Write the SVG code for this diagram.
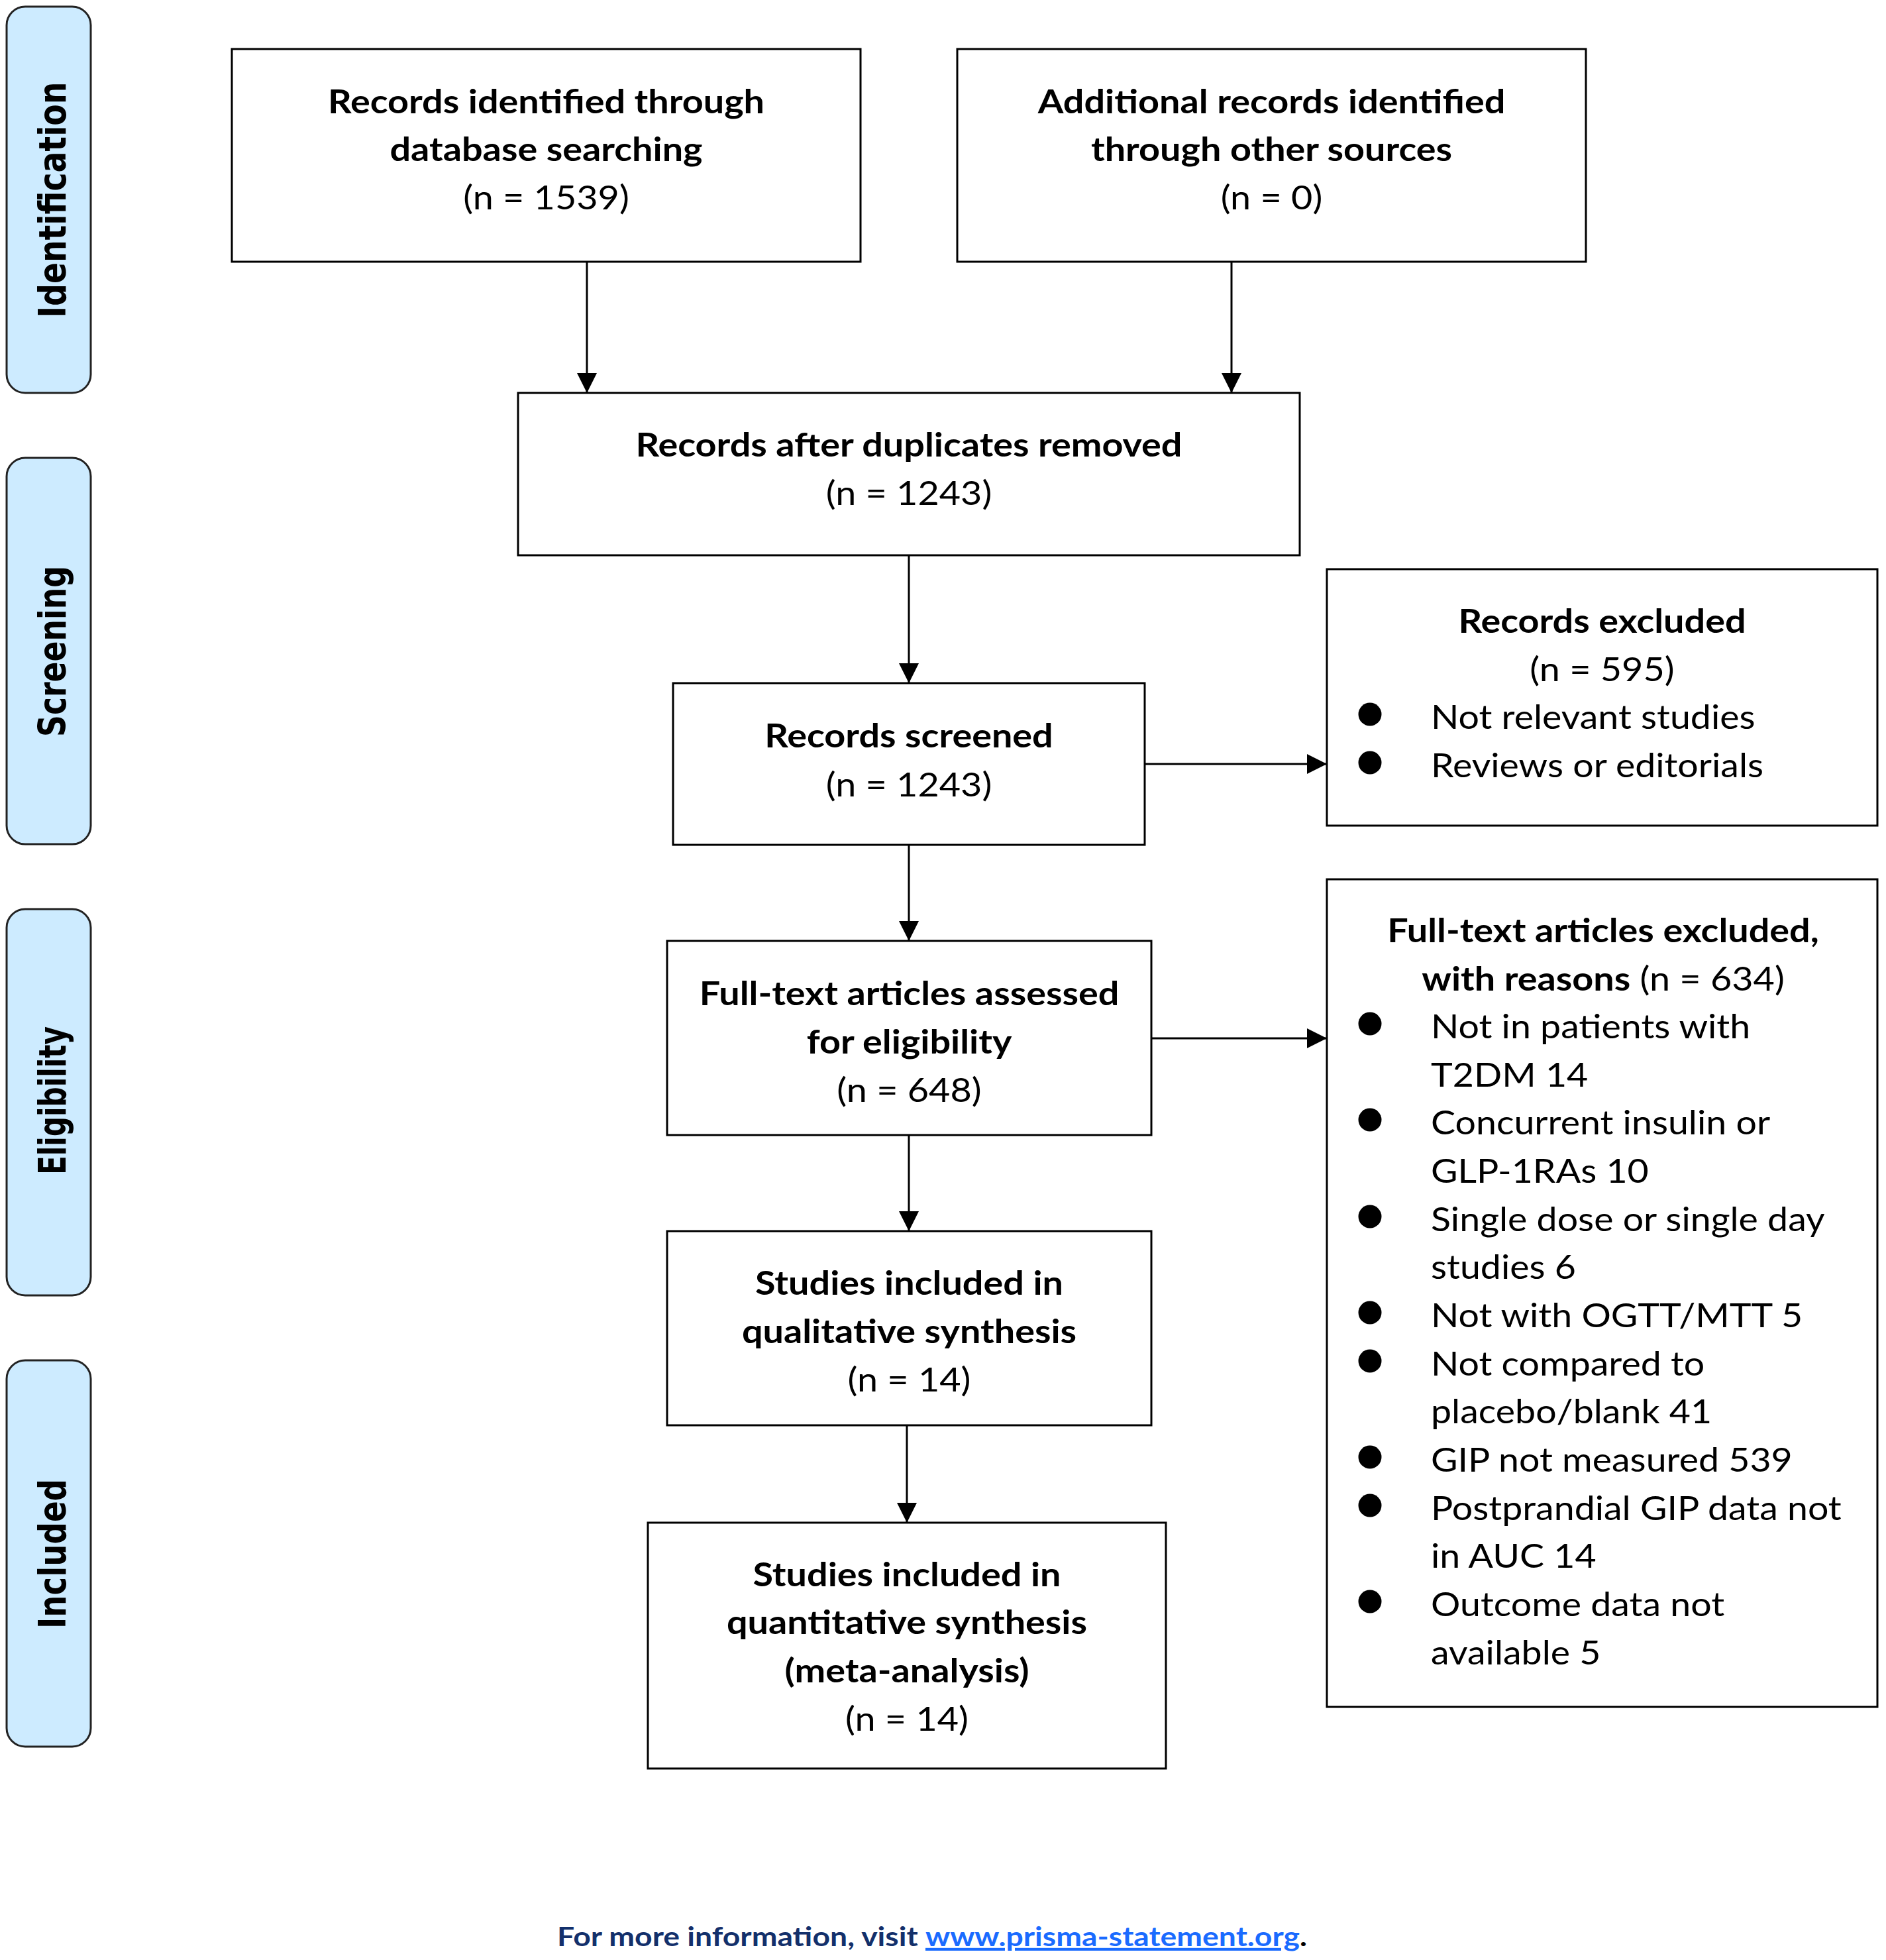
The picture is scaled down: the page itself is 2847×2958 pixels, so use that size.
<svg xmlns="http://www.w3.org/2000/svg" width="2847" height="2958" viewBox="0 0 2847 2958">
<style>
.side{fill:#CDEBFF;stroke:#222;stroke-width:3}
.sidet{font-family:"DejaVu Sans",Verdana,sans-serif;font-weight:bold;font-size:57px;fill:#000;text-anchor:middle}
.box{fill:#fff;stroke:#000;stroke-width:3}
.t{font-family:Lato,"Open Sans",sans-serif;font-size:50px;fill:#000;text-anchor:middle}
.l{font-family:Lato,"Open Sans",sans-serif;font-size:50px;fill:#000}
.b{font-weight:bold}
.conn{stroke:#000;stroke-width:3;fill:none;marker-end:url(#ah)}
.foot{font-family:Lato,"Open Sans",sans-serif;font-size:41px;font-weight:bold;text-anchor:middle}
</style>
<defs>
<marker id="ah" markerUnits="userSpaceOnUse" markerWidth="30" markerHeight="30" refX="30" refY="15" orient="auto">
<path d="M0,0 L30,15 L0,30 z" fill="#000"/>
</marker>
</defs>
<rect width="2847" height="2958" fill="#fff"/>

<g id="phase-identification">
<rect class="side" x="10" y="10" width="127" height="583" rx="28"/>
<text class="sidet" x="99" y="301.5" transform="rotate(-90 99 301.5)" textLength="356" lengthAdjust="spacingAndGlyphs">Identification</text>
</g>
<g id="phase-screening">
<rect class="side" x="10" y="691" width="127" height="583" rx="28"/>
<text class="sidet" x="99" y="983" transform="rotate(-90 99 983)" textLength="258" lengthAdjust="spacingAndGlyphs">Screening</text>
</g>
<g id="phase-eligibility">
<rect class="side" x="10" y="1372" width="127" height="583" rx="28"/>
<text class="sidet" x="99" y="1661" transform="rotate(-90 99 1661)" textLength="224" lengthAdjust="spacingAndGlyphs">Eligibility</text>
</g>
<g id="phase-included">
<rect class="side" x="10" y="2053" width="127" height="583" rx="28"/>
<text class="sidet" x="99" y="2345" transform="rotate(-90 99 2345)" textLength="226" lengthAdjust="spacingAndGlyphs">Included</text>
</g>

<g id="connectors">
<line class="conn" x1="886" y1="395" x2="886" y2="593"/>
<line class="conn" x1="1859" y1="395" x2="1859" y2="593"/>
<line class="conn" x1="1372" y1="838" x2="1372" y2="1031"/>
<line class="conn" x1="1728" y1="1153" x2="2003" y2="1153"/>
<line class="conn" x1="1372" y1="1275" x2="1372" y2="1420"/>
<line class="conn" x1="1738" y1="1567" x2="2003" y2="1567"/>
<line class="conn" x1="1372" y1="1713" x2="1372" y2="1858"/>
<line class="conn" x1="1369" y1="2151" x2="1369" y2="2298"/>
</g>

<g id="n-database">
<rect class="box" x="350" y="74" width="949" height="321"/>
<g transform="matrix(1.115 0 0 1 -94.82 0)">
<text class="t b" x="824.5" y="171">Records identified through</text>
<text class="t b" x="824.5" y="243">database searching</text>
<text class="t" x="824.5" y="316">(n = 1539)</text>
</g>
</g>
<g id="n-other">
<rect class="box" x="1445" y="74" width="949" height="321"/>
<g transform="matrix(1.115 0 0 1 -220.74 0)">
<text class="t b" x="1919.5" y="171">Additional records identified</text>
<text class="t b" x="1919.5" y="243">through other sources</text>
<text class="t" x="1919.5" y="316">(n = 0)</text>
</g>
</g>
<g id="n-dedup">
<rect class="box" x="782" y="593" width="1180" height="245"/>
<g transform="matrix(1.115 0 0 1 -157.78 0)">
<text class="t b" x="1372" y="689">Records after duplicates removed</text>
<text class="t" x="1372" y="762">(n = 1243)</text>
</g>
</g>
<g id="n-screened">
<rect class="box" x="1016" y="1031" width="712" height="244"/>
<g transform="matrix(1.115 0 0 1 -157.78 0)">
<text class="t b" x="1372" y="1128">Records screened</text>
<text class="t" x="1372" y="1202">(n = 1243)</text>
</g>
</g>
<g id="n-excluded">
<rect class="box" x="2003" y="859" width="831" height="387"/>
<g transform="matrix(1.115 0 0 1 -278.13 0)">
<text class="t b" x="2418.5" y="955">Records excluded</text>
<text class="t" x="2418.5" y="1028">(n = 595)</text>
</g>
<circle cx="2068" cy="1078" r="17.5"/>
<circle cx="2068" cy="1151" r="17.5"/>
<g transform="matrix(1.11 0 0 1 -237.6 0)">
<text class="l" x="2160" y="1100">Not relevant studies</text>
<text class="l" x="2160" y="1173">Reviews or editorials</text>
</g>
</g>
<g id="n-fulltext">
<rect class="box" x="1007" y="1420" width="731" height="293"/>
<g transform="matrix(1.115 0 0 1 -157.84 0)">
<text class="t b" x="1372.5" y="1517">Full-text articles assessed</text>
<text class="t b" x="1372.5" y="1590">for eligibility</text>
<text class="t" x="1372.5" y="1663">(n = 648)</text>
</g>
</g>
<g id="n-ftexcluded">
<rect class="box" x="2003" y="1327" width="831" height="1249"/>
<g transform="matrix(1.115 0 0 1 -278.3 0)">
<text class="t b" x="2420" y="1422">Full-text articles excluded,</text>
<text class="t" x="2420" y="1495"><tspan class="b">with reasons</tspan> (n = 634)</text>
</g>
<circle cx="2068" cy="1545" r="17.5"/>
<circle cx="2068" cy="1690" r="17.5"/>
<circle cx="2068" cy="1836" r="17.5"/>
<circle cx="2068" cy="1981" r="17.5"/>
<circle cx="2068" cy="2054" r="17.5"/>
<circle cx="2068" cy="2199" r="17.5"/>
<circle cx="2068" cy="2272" r="17.5"/>
<circle cx="2068" cy="2417" r="17.5"/>
<g transform="matrix(1.11 0 0 1 -237.6 0)">
<text class="l" x="2160" y="1567">Not in patients with</text>
<text class="l" x="2160" y="1640">T2DM 14</text>
<text class="l" x="2160" y="1712">Concurrent insulin or</text>
<text class="l" x="2160" y="1785">GLP-1RAs 10</text>
<text class="l" x="2160" y="1858">Single dose or single day</text>
<text class="l" x="2160" y="1930">studies 6</text>
<text class="l" x="2160" y="2003">Not with OGTT/MTT 5</text>
<text class="l" x="2160" y="2076">Not compared to</text>
<text class="l" x="2160" y="2148">placebo/blank 41</text>
<text class="l" x="2160" y="2221">GIP not measured 539</text>
<text class="l" x="2160" y="2294">Postprandial GIP data not</text>
<text class="l" x="2160" y="2366">in AUC 14</text>
<text class="l" x="2160" y="2439">Outcome data not</text>
<text class="l" x="2160" y="2512">available 5</text>
</g>
</g>
<g id="n-qualitative">
<rect class="box" x="1007" y="1858" width="731" height="293"/>
<g transform="matrix(1.115 0 0 1 -157.84 0)">
<text class="t b" x="1372.5" y="1954">Studies included in</text>
<text class="t b" x="1372.5" y="2027">qualitative synthesis</text>
<text class="t" x="1372.5" y="2100">(n = 14)</text>
</g>
</g>
<g id="n-quantitative">
<rect class="box" x="978" y="2298" width="782" height="371"/>
<g transform="matrix(1.115 0 0 1 -157.44 0)">
<text class="t b" x="1369" y="2394">Studies included in</text>
<text class="t b" x="1369" y="2466">quantitative synthesis</text>
<text class="t b" x="1369" y="2539">(meta-analysis)</text>
<text class="t" x="1369" y="2612">(n = 14)</text>
</g>
</g>

<g id="footer">
<g transform="matrix(1.13 0 0 1 -182.91 0)">
<text class="foot" x="1407" y="2937"><tspan fill="#13306B">For more information, visit </tspan><tspan fill="#1A6BFF" text-decoration="underline">www.prisma-statement.org</tspan><tspan fill="#000">.</tspan></text>
</g>
</g>
</svg>
